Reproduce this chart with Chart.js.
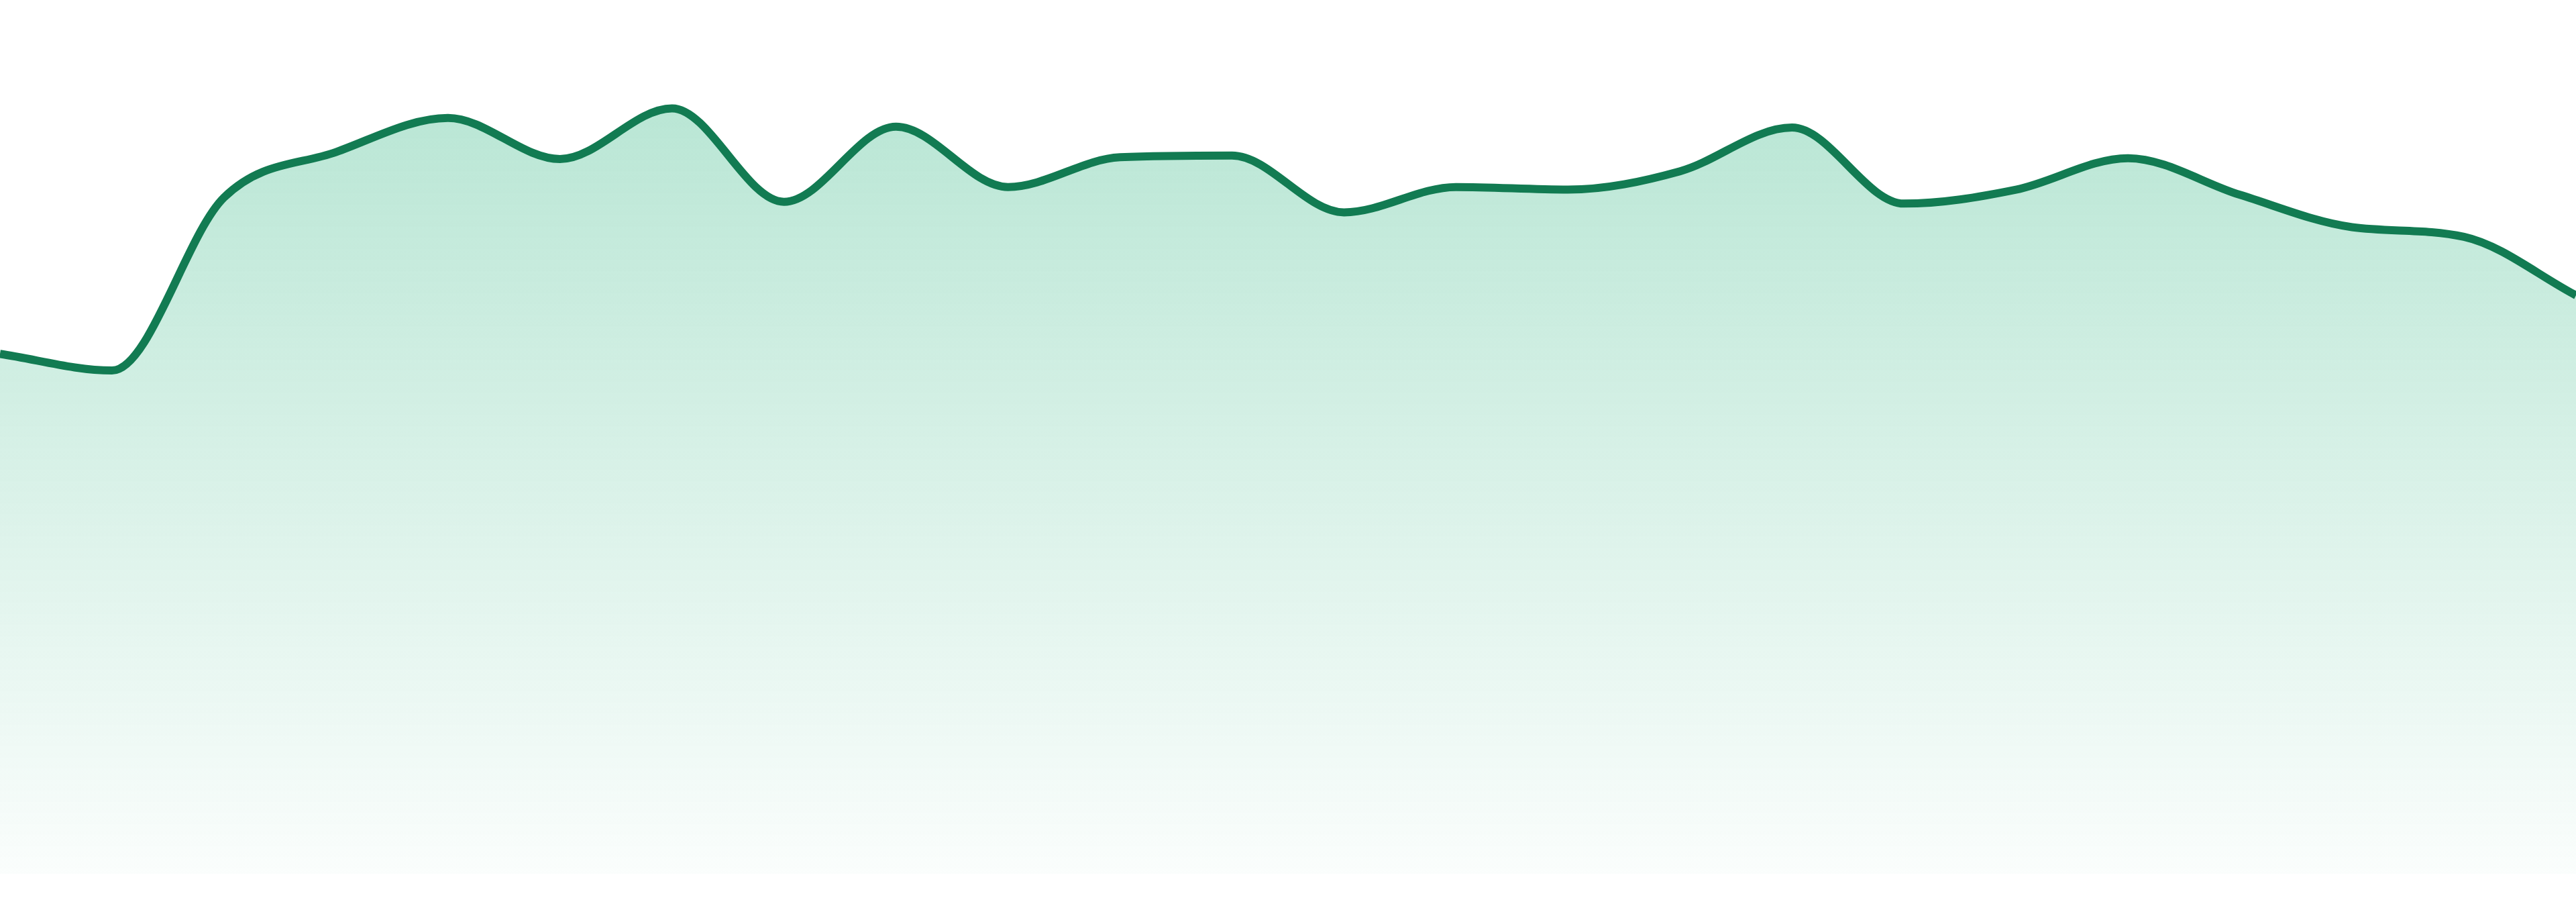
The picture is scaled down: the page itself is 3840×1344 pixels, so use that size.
<!DOCTYPE html>
<html>
<head>
<meta charset="utf-8">
<script src="https://cdn.jsdelivr.net/npm/chart.js@4/dist/chart.umd.min.js"></script>
<style>
    html, body { margin: 0; padding: 0; background: #ffffff; }
    .wrap { width: 3840px; height: 1344px; }
</style>
</head>
<body>
<div class="wrap"><canvas class="canvas" width="3840" height="1344"></canvas></div>
<script>
let labels = ["00:00","01:00","02:00","03:00","04:00","05:00","06:00","07:00","08:00","09:00","10:00","11:00",
              "12:00","13:00","14:00","15:00","16:00","17:00","18:00","19:00","20:00","21:00","22:00","23:00"];
let values = [59.5,57.6,77.4,82.6,86.5,81.8,87.6,76.9,85.5,78.6,82.0,82.2,
              75.7,78.6,78.3,80.4,85.4,76.7,78.3,81.9,77.7,74.0,72.9,66.2];
let yMin = 0;
let yMax = 100;

let canvas = document.querySelector(".canvas");

// vertical fade under the line, fitted to the chart area
let fillGradient = (ctx)=>{
    let area = ctx.chart.chartArea;
    if (!area) return "rgba(16,170,110,0.2)";
    let g = ctx.chart.ctx.createLinearGradient(0, area.top, 0, area.bottom);
    g.addColorStop(0, "rgba(16,170,110,0.33)");
    g.addColorStop(1, "rgba(16,170,110,0.02)");
    return g;
}

let chart = new Chart(canvas,{
    type:"line",
    data:{
        labels:labels,
        datasets:[
            {
                data:values,
                borderColor:"#127b52",
                borderWidth:12,
                backgroundColor:fillGradient,
                fill:"start",
                cubicInterpolationMode:"monotone",
                pointRadius:0,
                pointHoverRadius:0
            }
        ]
    },
    options:{
        responsive:false,
        devicePixelRatio:1,
        animation:false,
        layout:{padding:{top:0,left:0,right:0,bottom:42}},
        plugins:{legend:{display:false},tooltip:{enabled:false}},
        scales:{
            x:{display:false,offset:false},
            y:{display:false,min:yMin,max:yMax}
        }
    }
});
</script>
</body>
</html>
